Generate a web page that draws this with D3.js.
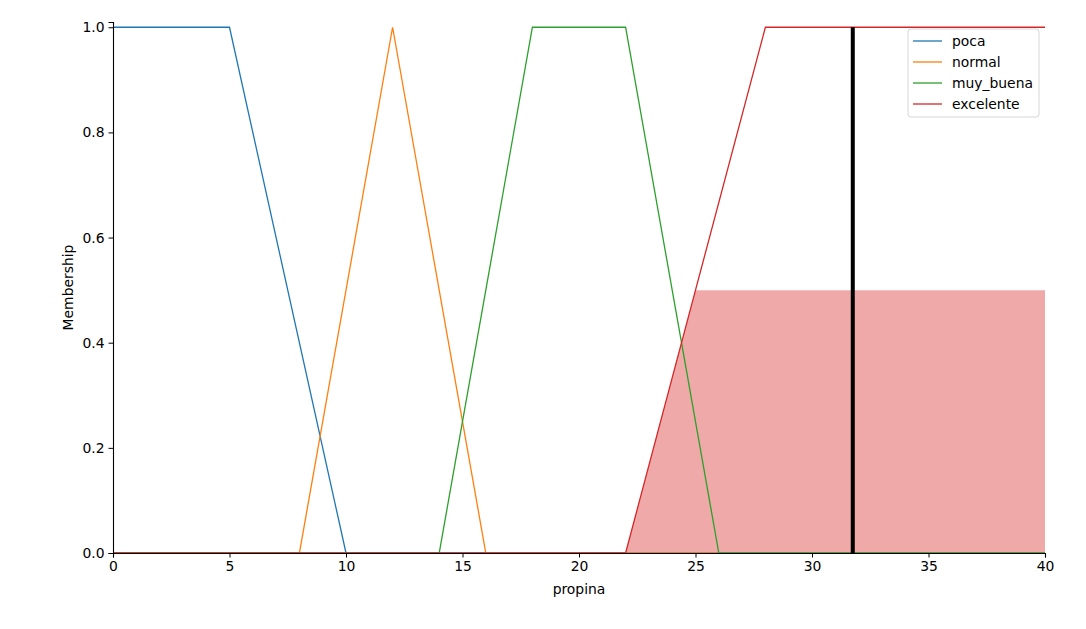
<!DOCTYPE html>
<html>
<head>
<meta charset="utf-8">
<script src="https://cdn.jsdelivr.net/npm/d3@7"></script>
<style>
  body { margin: 0; background: #fff; }
  svg { font-family: "DejaVu Sans", sans-serif; }
</style>
</head>
<body>
<div id="chart"></div>
<script>
// membership functions for "propina" (x, y vertices)
const universe = [0, 40];
const sets = ["poca", "normal", "muy_buena", "excelente"];
const colors = ["#1f77b4", "#ff7f0e", "#2ca02c", "#d62728"];
const pocaX = [0, 5, 10, 40];
const pocaY = [1, 1, 0, 0];
const normalX = [0, 8, 12, 16, 40];
const normalY = [0, 0, 1, 0, 0];
const muyBuenaX = [0, 14, 18, 22, 26, 40];
const muyBuenaY = [0, 0, 1, 1, 0, 0];
const excelenteX = [0, 22, 28, 40];
const excelenteY = [0, 0, 1, 1];
// aggregated (clipped) output and defuzzified value
const aggX = [22, 25, 40];
const aggY = [0, 0.5, 0.5];
const crisp = 31.75;
const xTicks = [0, 5, 10, 15, 20, 25, 30, 35, 40];
const yTicks = [0, 0.2, 0.4, 0.6, 0.8, 1.0];

const width = 1086, height = 629;
const margin = {top: 22, right: 41, bottom: 76, left: 113};
const fs = 13.9;

const svg = d3.select("#chart").append("svg")
    .attr("width", width)
    .attr("height", height);

const x = d3.scaleLinear().domain(universe).range([margin.left, width - margin.right]);
const y = d3.scaleLinear().domain([0, 1.01]).range([height - margin.bottom, margin.top]);

const line = d3.line().x(d => x(d[0])).y(d => y(d[1]));
const zip = (a, b) => a.map((v, i) => [v, b[i]]);

// shaded aggregated area (under the lines)
const area = d3.area()
    .x(d => x(d[0]))
    .y0(y(0))
    .y1(d => y(d[1]));
svg.append("path")
    .attr("d", area(zip(aggX, aggY)))
    .attr("fill", colors[3])
    .attr("fill-opacity", 0.4);

const series = [
    zip(pocaX, pocaY),
    zip(normalX, normalY),
    zip(muyBuenaX, muyBuenaY),
    zip(excelenteX, excelenteY)
];

series.forEach((s, i) => {
    svg.append("path")
        .attr("d", line(s))
        .attr("fill", "none")
        .attr("stroke", colors[i])
        .attr("stroke-width", 1.3);
});

// defuzzified result
svg.append("line")
    .attr("x1", x(crisp)).attr("x2", x(crisp))
    .attr("y1", y(0)).attr("y2", y(1))
    .attr("stroke", "black")
    .attr("stroke-width", 4);

// axes
const xAxis = svg.append("g")
    .attr("transform", "translate(0," + y(0) + ")")
    .call(d3.axisBottom(x).tickValues(xTicks).tickFormat(d3.format("d")).tickSizeOuter(0).tickSize(4.5).tickPadding(4));
const yAxis = svg.append("g")
    .attr("transform", "translate(" + x(0) + ",0)")
    .call(d3.axisLeft(y).tickValues(yTicks).tickFormat(d3.format(".1f")).tickSizeOuter(0).tickSize(4.5).tickPadding(4));

[xAxis, yAxis].forEach(a => {
    a.selectAll("text").attr("font-size", fs).attr("font-family", "DejaVu Sans").attr("fill", "#000");
    a.selectAll("line").attr("stroke", "#000").attr("stroke-width", 1);
    a.select(".domain").attr("stroke", "#000").attr("stroke-width", 1.1);
});

svg.append("text")
    .attr("x", (x(0) + x(40)) / 2)
    .attr("y", 594)
    .attr("text-anchor", "middle")
    .attr("font-size", fs)
    .text("propina");

svg.append("text")
    .attr("transform", "translate(73," + ((y(0) + y(1.01)) / 2) + ") rotate(-90)")
    .attr("text-anchor", "middle")
    .attr("font-size", fs)
    .text("Membership");

// legend
const legend = svg.append("g").attr("transform", "translate(908,29)");
legend.append("rect")
    .attr("width", 131).attr("height", 88)
    .attr("rx", 3)
    .attr("fill", "white").attr("fill-opacity", 0.8)
    .attr("stroke", "#d6d6d6");
sets.forEach((name, i) => {
    const g = legend.append("g").attr("transform", "translate(0," + (12 + i * 21) + ")");
    g.append("line")
        .attr("x1", 5).attr("x2", 34)
        .attr("stroke", colors[i]).attr("stroke-width", 1.3);
    g.append("text")
        .attr("x", 44).attr("y", 0)
        .attr("dy", "0.35em")
        .attr("font-size", fs)
        .text(name);
});
</script>
</body>
</html>
